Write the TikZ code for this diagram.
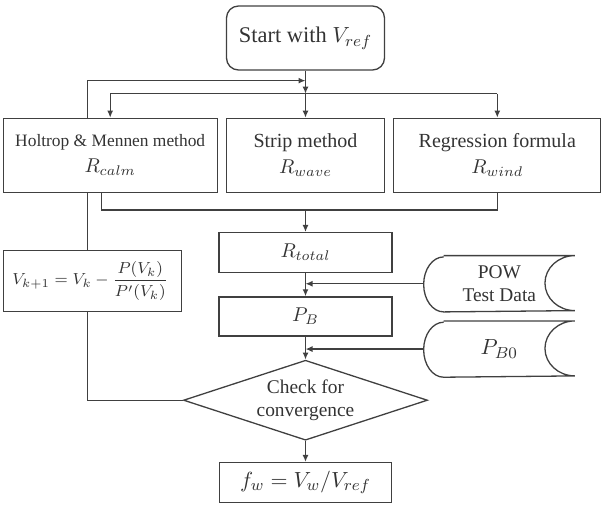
\documentclass[tikz,border=0pt]{standalone}
\usepackage{fontspec}
\setmainfont{Liberation Serif}
\usetikzlibrary{arrows.meta,positioning,shapes.geometric}

\begin{document}
\begin{tikzpicture}[
  font=\fontsize{10}{12}\selectfont,
  line width=0.65pt,
  every node/.style={text=black!80},
  box/.style={draw=black!75, align=center, inner sep=1pt},
  store/.style={align=center, inner sep=0pt, minimum width=75pt, minimum height=27.5pt},
  arr/.style={-{Latex[length=3.5pt,width=3pt]}, draw=black!75}
]
  \useasboundingbox (0,0) rectangle (301.5pt,-252.5pt);

  % Start of the iteration
  \node[box, rounded corners=6pt, minimum width=79pt, minimum height=32pt,
    font=\fontsize{11.2}{13}\selectfont] (start) at (152.75pt,-19pt) {Start with $V_{ref}$};

  % Resistance components
  \node[box, minimum width=79pt, minimum height=37pt, below=23.5pt of start] (strip) {
    Strip method\\[1pt] $R_{wave}$
  };
  \node[box, minimum width=107pt, minimum height=37pt, left=4pt of strip] (hm) {
    {\fontsize{8.7}{10}\selectfont Holtrop \& Mennen method}\\[1pt] $R_{calm}$
  };
  \node[box, minimum width=103.5pt, minimum height=37pt, right=4pt of strip] (regr) {
    Regression formula\\[1pt] $R_{wind}$
  };

  % Main column
  \node[box, minimum width=86.5pt, minimum height=20pt, below=19.5pt of strip] (rtotal) {$R_{total}$};
  \node[box, minimum width=86.5pt, minimum height=19.5pt, below=11.5pt of rtotal] (pb) {$P_B$};
  \node[box, diamond, aspect=3.2, inner sep=0pt, minimum width=122pt, minimum height=40pt,
    font=\fontsize{9.7}{11.5}\selectfont, below=11.5pt of pb] (conv) {Check for\\convergence};
  \node[box, minimum width=86pt, minimum height=20pt, below=10.5pt of conv,
    font=\fontsize{11}{13}\selectfont] (fw) {$f_w = V_w/V_{ref}$};

  % Newton update
  \node[box, minimum width=89pt, minimum height=30.5pt, below right=28.5pt and 0pt of hm.south west,
    font=\fontsize{8}{10}\selectfont] (newton) {
    $\displaystyle V_{k+1} = V_k - \frac{P(V_k)}{P'(V_k)}$
  };

  % Stored data
  \node[store, font=\fontsize{9.7}{11.5}\selectfont, right=15.5pt of rtotal.south east, yshift=-5.25pt] (pow) {
    POW\\Test Data
  };
  \node[store, font=\fontsize{11}{13}\selectfont, below=4.5pt of pow] (pb0) {$P_{B0}$};
  \foreach \n in {pow,pb0}
    \draw[black!75] ([xshift=10pt]\n.north west) -- (\n.north east)
      arc[start angle=90, end angle=270, x radius=15pt, y radius=13.75pt]
      -- ([xshift=10pt]\n.south west)
      arc[start angle=270, end angle=90, x radius=10pt, y radius=13.75pt];

  % Junction points
  \coordinate[below=5pt of start.south] (back);
  \coordinate[below=11.5pt of start.south] (split);
  \coordinate[below=8.5pt of strip.south] (merge);
  \coordinate (loopx) at ([xshift=-11.5pt]hm.south);
  \coordinate (loopt) at ([xshift=-11.5pt]hm.north);

  % Fan out
  \draw[arr] (start.south) -- (split);
  \draw[black!75] (split -| hm.north) -- (split -| regr.north);
  \draw[arr] (split -| hm.north) -- (hm.north);
  \draw[arr] (split) -- (strip.north);
  \draw[arr] (split -| regr.north) -- (regr.north);

  % Collect
  \draw[black!75] ([xshift=-4.5pt]hm.south) |- (merge) -| (regr.south);
  \draw[arr] (merge) -- (rtotal.north);
  \draw[arr] (rtotal) -- (pb);
  \draw[arr] (pow.west) -- (pow.west -| rtotal.south);
  \draw[arr] (pb) -- (conv);
  \draw[arr] (pb0.west) -- (pb0.west -| pb.south);
  \draw[arr] (conv) -- (fw);

  % Loop back
  \draw[black!75] (conv.west) -| (loopx |- newton.south);
  \draw[black!75] (loopx) -- (loopx |- newton.north);
  \draw[arr] (loopt) |- (back);
\end{tikzpicture}
\end{document}
